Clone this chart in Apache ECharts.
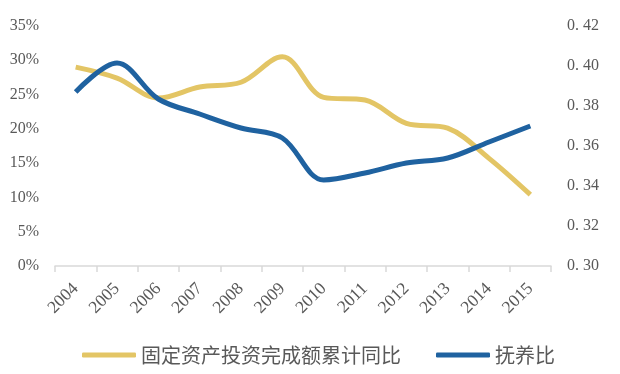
<!DOCTYPE html>
<html>
<head>
<meta charset="utf-8">
<script src="https://cdn.jsdelivr.net/npm/echarts@6/dist/echarts.min.js"></script>
<style>html,body{margin:0;padding:0;background:#fff}#c{width:620px;height:374px}</style>
</head>
<body>
<div id="c"></div>
<script>
var categories = ['2004','2005','2006','2007','2008','2009','2010','2011','2012','2013','2014','2015'];
var investGrowth = [29.0, 27.4, 24.5, 26.1, 26.8, 30.5, 24.6, 24.2, 20.8, 20.1, 15.7, 10.4];
var dependencyRatio = [0.387, 0.4015, 0.3835, 0.376, 0.369, 0.364, 0.343, 0.3465, 0.3515, 0.354, 0.362, 0.370];
var seriesNames = ['固定资产投资完成额累计同比', '抚养比'];

var font = '"Liberation Serif", "DejaVu Serif", serif';
var chart = echarts.init(document.getElementById('c'), null, {renderer: 'canvas'});
chart.setOption({
  animation: false,
  grid: {left: 55, right: 69, top: 26, bottom: 108, containLabel: false},
  legend: {
    top: 340, left: 77,
    itemWidth: 54, itemHeight: 5, itemGap: 35,
    icon: 'roundRect',
    textStyle: {fontSize: 20, color: '#595959', fontFamily: '"Noto Sans CJK SC", sans-serif'},
    data: seriesNames
  },
  xAxis: {
    type: 'category', data: categories, boundaryGap: true,
    axisLine: {lineStyle: {color: '#D9D9D9', width: 1.5}},
    axisTick: {show: true, length: 6, lineStyle: {color: '#D9D9D9', width: 1.5}},
    axisLabel: {rotate: 45, fontSize: 17.5, color: '#595959', fontFamily: font, margin: 20, interval: 0}
  },
  yAxis: [
    {type: 'value', min: 0, max: 35, interval: 5,
     splitLine: {show: false}, axisLine: {show: false}, axisTick: {show: false},
     axisLabel: {formatter: '{value}%', fontSize: 16, color: '#595959', fontFamily: font, margin: 16}},
    {type: 'value', min: 0.30, max: 0.42, interval: 0.02,
     splitLine: {show: false}, axisLine: {show: false}, axisTick: {show: false},
     axisLabel: {formatter: function(v){var s=v.toFixed(2);return s.replace('.', '. ');}, fontSize: 16, color: '#595959', fontFamily: font, margin: 16}}
  ],
  series: [
    {name: seriesNames[0], type: 'line', yAxisIndex: 0, data: investGrowth, smooth: 0.35,
     showSymbol: false, symbol: 'none', lineStyle: {color: '#E3C565', width: 5}, itemStyle: {color: '#E3C565'}},
    {name: seriesNames[1], type: 'line', yAxisIndex: 1, data: dependencyRatio, smooth: 0.35,
     showSymbol: false, symbol: 'none', lineStyle: {color: '#1F62A0', width: 5}, itemStyle: {color: '#1F62A0'}}
  ]
});
</script>
</body>
</html>
